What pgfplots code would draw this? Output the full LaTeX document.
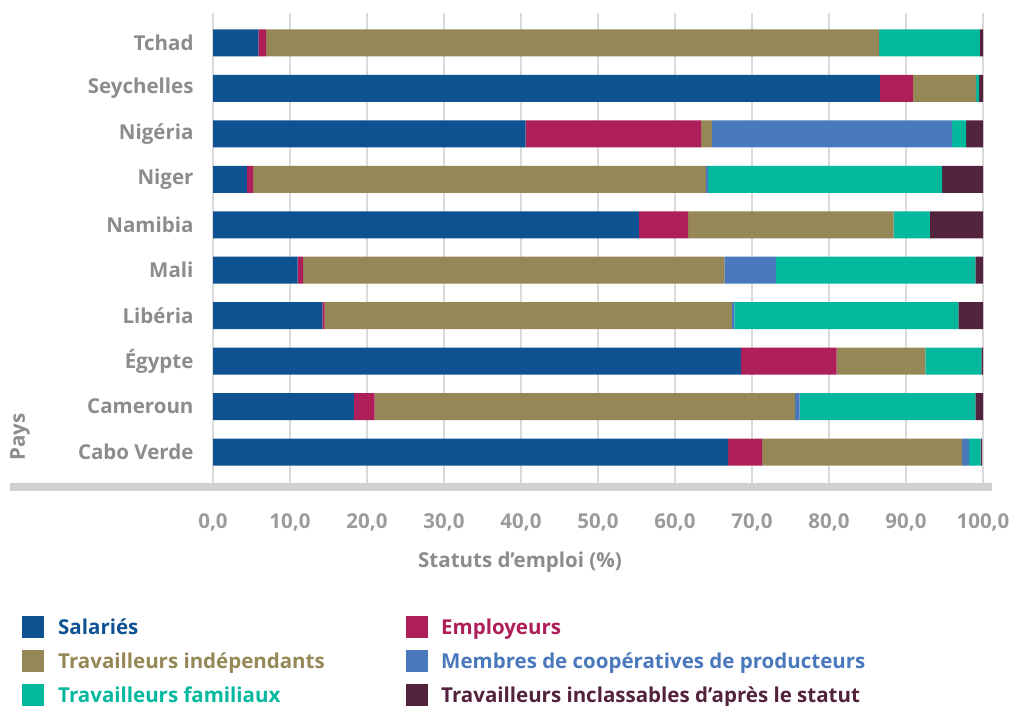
\documentclass[border=0pt]{standalone}
\usepackage{pgfplots}
\pgfplotsset{compat=1.18}
\usepackage{pgfplotstable}
\usepackage{fontspec}
\setmainfont{Open Sans}
\definecolor{cSal}{RGB}{15,82,146}
\definecolor{cEmp}{RGB}{174,30,89}
\definecolor{cInd}{RGB}{150,136,86}
\definecolor{cCoop}{RGB}{74,120,188}
\definecolor{cFam}{RGB}{4,184,158}
\definecolor{cInc}{RGB}{83,34,61}
\definecolor{txtgray}{RGB}{140,140,143}
\definecolor{ticgray}{RGB}{155,155,158}
\definecolor{gridgray}{RGB}{218,218,218}
\definecolor{bandgray}{RGB}{208,208,210}

\pgfplotstableread{
idx sal emp ind coop fam inc
0 66.9 4.4 26.0 0.9 1.5 0.2
1 18.3 2.7 54.6 0.6 22.8 1.0
2 68.6 12.4 11.5 0.0 7.3 0.2
3 14.2 0.3 52.9 0.3 29.1 3.2
4 11.0 0.7 54.7 6.7 25.9 1.0
5 55.3 6.4 26.7 0.0 4.7 6.9
6 4.4 0.8 58.8 0.3 30.4 5.3
7 40.6 22.8 1.4 31.2 1.8 2.2
8 86.6 4.3 8.2 0.0 0.4 0.5
9 5.9 1.0 79.6 0.0 13.1 0.4
}\datatable

\newcommand{\ff}{\fontsize{20.5}{24}\selectfont\bfseries}
\begin{document}
\begin{tikzpicture}
\path[use as bounding box] (0,0) rectangle (1012pt,706pt);
\begin{axis}[
  at={(213pt,219pt)}, anchor=south west,
  scale only axis, width=770pt, height=474pt,
  xbar stacked, bar width=27pt,
  xmin=0, xmax=100, ymin=-0.77, ymax=9.66,
  ytick={0,...,9},
  yticklabels={Cabo Verde,Cameroun,Égypte,Libéria,Mali,Namibia,Niger,Nigéria,Seychelles,Tchad},
  xtick={0,10,...,100},
  major tick length=0pt,
  axis line style={draw=none},
  xmajorgrids, ymajorgrids=false,
  major grid style={draw=gridgray, line width=1.6pt},
  xticklabel style={/pgf/number format/fixed, /pgf/number format/fixed zerofill, /pgf/number format/precision=1, /pgf/number format/use comma, /pgf/number format/assume math mode=true, font=\ff, text=ticgray, yshift=-23pt},
  yticklabel style={font=\ff, text=txtgray, xshift=-16pt},
  clip=false,
]
\addplot[fill=cSal, draw=none] table[x=sal, y=idx]{\datatable};
\addplot[fill=cEmp, draw=none] table[x=emp, y=idx]{\datatable};
\addplot[fill=cInd, draw=none] table[x=ind, y=idx]{\datatable};
\addplot[fill=cCoop, draw=none] table[x=coop, y=idx]{\datatable};
\addplot[fill=cFam, draw=none] table[x=fam, y=idx]{\datatable};
\addplot[fill=cInc, draw=none] table[x=inc, y=idx]{\datatable};
\end{axis}
\draw[bandgray, line width=8pt] (10pt,219pt) -- (992pt,219pt);
\node[font=\ff, text=txtgray] at (520pt,144pt) {Statuts d’emploi (\%)};
\node[font=\ff, text=txtgray, rotate=90] at (20pt,269pt) {Pays};
% legend
\fill[cSal] (22pt,68pt) rectangle (44pt,90pt);
\node[anchor=base west, inner sep=0pt, font=\ff, text=cSal] at (58pt,71pt) {Salariés};
\fill[cEmp] (406pt,68pt) rectangle (428pt,90pt);
\node[anchor=base west, inner sep=0pt, font=\ff, text=cEmp] at (441pt,71pt) {Employeurs};
\fill[cInd] (22pt,34pt) rectangle (44pt,56pt);
\node[anchor=base west, inner sep=0pt, font=\ff, text=cInd] at (58pt,37pt) {Travailleurs indépendants};
\fill[cCoop] (406pt,34pt) rectangle (428pt,56pt);
\node[anchor=base west, inner sep=0pt, font=\ff, text=cCoop] at (441pt,37pt) {Membres de coopératives de producteurs};
\fill[cFam] (22pt,0pt) rectangle (44pt,22pt);
\node[anchor=base west, inner sep=0pt, font=\ff, text=cFam] at (58pt,3pt) {Travailleurs familiaux};
\fill[cInc] (406pt,0pt) rectangle (428pt,22pt);
\node[anchor=base west, inner sep=0pt, font=\ff, text=cInc] at (441pt,3pt) {Travailleurs inclassables d’après le statut};
\end{tikzpicture}
\end{document}
